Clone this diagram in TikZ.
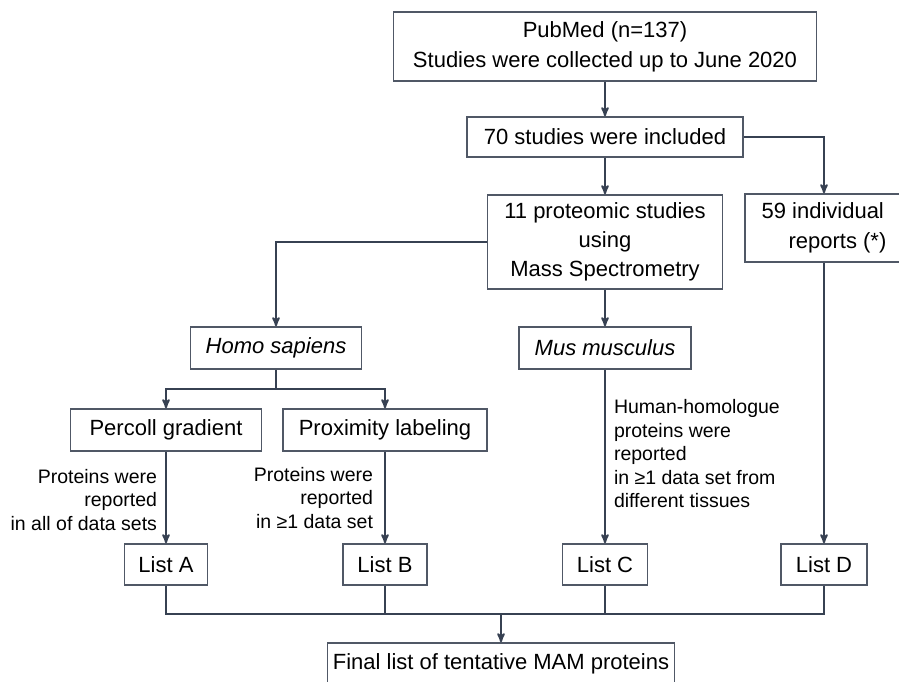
\documentclass[tikz,border=0pt]{standalone}
\usepackage{fontspec}
\setmainfont{Liberation Sans}
\usepackage{tikz}
\usetikzlibrary{arrows}

\definecolor{lnclr}{RGB}{55,65,82}
\definecolor{bxclr}{RGB}{80,88,102}

\begin{document}
\begin{tikzpicture}[->,>=stealth',x=1pt,y=-1pt,line width=2pt,draw=lnclr,
  box/.style={draw=bxclr,line width=1.5pt,fill=white,inner sep=0pt,align=center,
    font=\fontsize{22}{29}\selectfont},
  lbl/.style={inner sep=0pt,font=\fontsize{19.5}{23.5}\selectfont},
  joinln/.style={-,line width=1.2pt}]

  \useasboundingbox (0,0) rectangle (899,682);

  \node[box,minimum width=423pt,minimum height=69pt] (pub) at (605,46.5)
    {PubMed (n=137)\\[1pt]Studies were collected up to June 2020};
  \node[box,minimum width=276pt,minimum height=40pt] (incl) at (605,137) {70 studies were included};
  \node[box,minimum width=235pt,minimum height=94pt] (prot) at (605,242)
    {11 proteomic studies\\using\\Mass Spectrometry};
  \node[box,minimum width=158pt,minimum height=68pt,align=left] (indiv) at (824,228)
    {59 individual\\[1pt]\hspace*{27pt}reports (*)};
  \node[box,minimum width=171pt,minimum height=42pt] (homo) at (276,348) {\itshape Homo sapiens};
  \node[box,minimum width=172pt,minimum height=42pt] (mus) at (605,348) {\itshape Mus musculus};
  \node[box,minimum width=191pt,minimum height=42pt] (perc) at (166,430) {Percoll gradient};
  \node[box,minimum width=204pt,minimum height=42pt] (prox) at (385,430) {Proximity labeling};
  \node[box,minimum width=83pt,minimum height=41pt] (lA) at (166,564.5) {List A};
  \node[box,minimum width=84pt,minimum height=41pt] (lB) at (385,564.5) {List B};
  \node[box,minimum width=85pt,minimum height=41pt] (lC) at (605,564.5) {List C};
  \node[box,minimum width=86pt,minimum height=41pt] (lD) at (824,564.5) {List D};
  \node[box,minimum width=347pt,minimum height=42pt] (fin) at (501,664) {Final list of tentative MAM proteins};

  \node[lbl,anchor=east,align=right] (tA) at (158,500)
    {Proteins were\\reported\\in all of data sets};
  \node[lbl,anchor=east,align=right] (tB) at (374,498)
    {Proteins were\\reported\\in ≥1 data set};
  \node[lbl,anchor=west,align=left] (tC) at (613,454)
    {Human-homologue\\proteins were\\reported\\in ≥1 data set from\\different tissues};

  \coordinate (hsplit) at (276,389);
  \coordinate (fsplit) at (501,614);

  \path (pub) edge (incl)
        (incl) edge (prot)
        (prot) edge (mus)
        (indiv) edge (lD)
        (perc) edge (lA)
        (prox) edge (lB)
        (mus) edge (lC)
        (fsplit) edge (fin);

  \draw (incl.east) -| (indiv.north);
  \draw (prot.west) -| (homo.north);
  \draw[-] (homo) -- (hsplit);
  \draw (hsplit) -| (perc.north);
  \draw (hsplit) -| (prox.north);

  \draw[-] (lA) |- (fsplit);
  \draw[-] (lD) |- (fsplit);
  \draw[joinln] (lB) -- (lB |- fsplit);
  \draw[joinln] (lC) -- (lC |- fsplit);

\end{tikzpicture}
\end{document}
